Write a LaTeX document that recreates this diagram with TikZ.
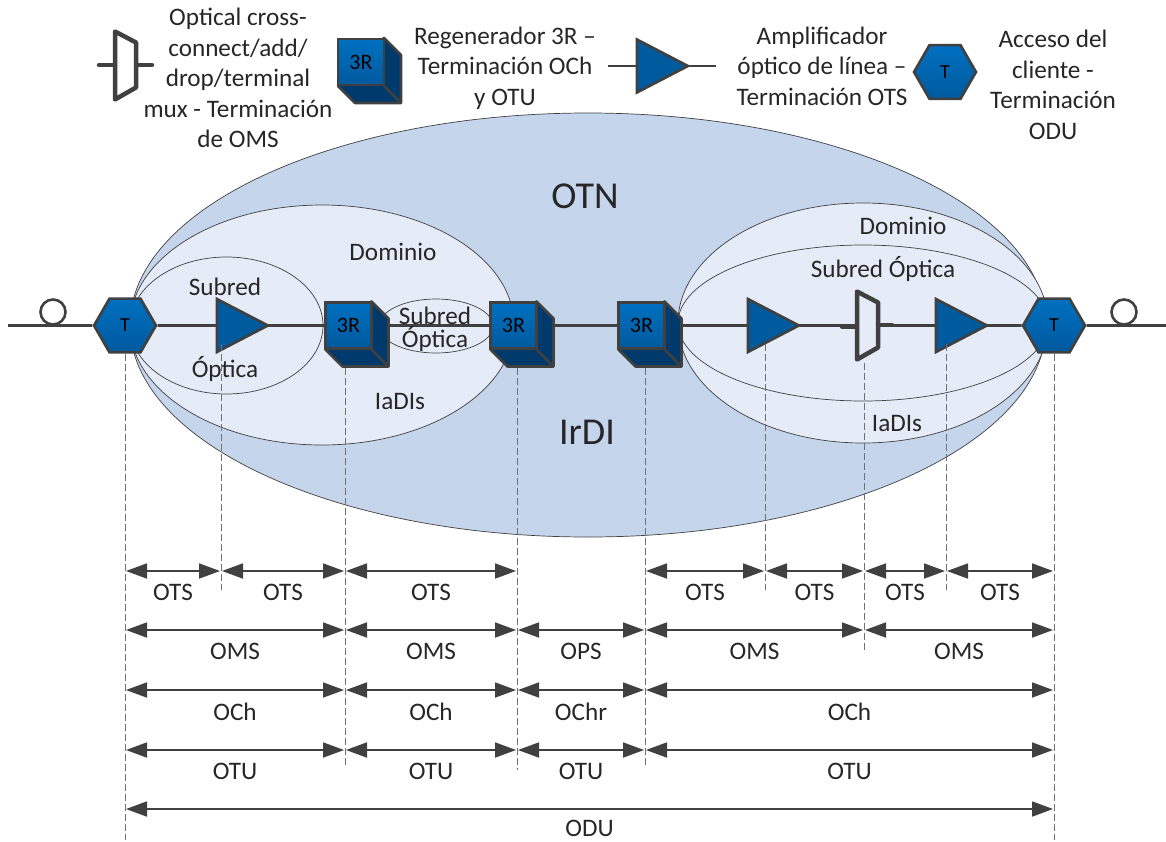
\documentclass[tikz,border=0pt]{standalone}
\usepackage{fontspec}
\setmainfont{Carlito}
\usetikzlibrary{arrows.meta,shapes.geometric}
\definecolor{darkline}{HTML}{404040}
\definecolor{otnblue}{HTML}{C5D5EC}
\definecolor{domblue}{HTML}{E6ECF7}
\definecolor{topblue}{HTML}{0070C0}
\definecolor{lowblue}{HTML}{005A9E}
\definecolor{sideblue}{HTML}{003A6C}
\tikzset{
  txt/.style={font=\fontsize{25.2}{30.5}\selectfont,text=black!85,align=center,inner sep=0pt},
  bigtxt/.style={font=\fontsize{38}{42}\selectfont,text=black!85,inner sep=0pt},
  zone/.style={draw=darkline,line width=0.7pt,fill=domblue},
  fibre/.style={draw=darkline,line width=2.6pt},
  stub/.style={draw=darkline,line width=4.5pt,line cap=round},
  guide/.style={draw=darkline!75,dash pattern=on 7pt off 3pt,line width=0.8pt},
  span/.style={draw=darkline,line width=1.8pt,{Triangle[length=21pt,width=15pt]}-{Triangle[length=21pt,width=15pt]},shorten <=1pt,shorten >=1pt},
  spanlbl/.style={font=\fontsize{25.2}{30.5}\selectfont,text=black!85,inner sep=0pt,midway,yshift=-21.5pt},
  hexa/.style={regular polygon,regular polygon sides=6,minimum size=62pt,inner sep=0pt,draw=darkline,line width=2.6pt,top color=topblue,bottom color=lowblue,font=\fontsize{20}{22}\selectfont},
  amp/.style={isosceles triangle,isosceles triangle stretches,minimum width=53pt,minimum height=51pt,inner sep=0pt,outer sep=0pt,draw=darkline,line width=2.6pt,fill=lowblue},
  loopc/.style={circle,minimum size=25pt,inner sep=0pt,draw=darkline,line width=2.6pt},
  regen/.pic={
    \draw[darkline,line width=2.6pt,line join=round,fill=sideblue] (23,-24) -- (40,-7) -- (40,41) -- (-6,41) -- (-23,24) -- cycle;
    \draw[darkline,line width=2.6pt] (23,24) -- (40,41);
    \node[draw=darkline,line width=2.6pt,top color=topblue,bottom color=lowblue,minimum size=46pt,inner sep=0pt,font=\fontsize{22}{24}\selectfont] (box) at (0,0) {3R};
    \coordinate (e) at (40,0);
  },
  oxc/.pic={
    \draw[darkline,line width=4.5pt,line join=round,fill=#1] (-10.5,-34) -- (10.5,-23) -- (10.5,22) -- (-10.5,34) -- cycle;
    \coordinate (w) at (-10.5,0);
    \coordinate (e) at (10.5,0);
  }
}
\begin{document}
\begin{tikzpicture}[x=1pt,y=-1pt]
\useasboundingbox (0,0) rectangle (1166,841);
% zones
\node[ellipse,zone,fill=otnblue,minimum width=916pt,minimum height=424pt] (otn) at (588,325) {};
\node[ellipse,zone,minimum width=384pt,minimum height=240pt] (doma) at (322,325) {};
\node[ellipse,zone,minimum width=193pt,minimum height=137pt] (suba) at (226.5,325.5) {};
\node[ellipse,zone,minimum width=114pt,minimum height=54pt] (subb) at (436,326) {};
\node[ellipse,zone,minimum width=370pt,minimum height=240pt] (domb) at (863,323) {};
\node[ellipse,zone,minimum width=370pt,minimum height=156pt] (subc) at (863,323) {};
% equipment on the line
\node[hexa] (ha) at (125,325.5) {T};
\node[hexa] (hb) at (1054,325.5) {T};
\node[amp] (aa) at (233,325.5) {};
\node[amp] (ab) at (764,325.5) {};
\node[amp] (ac) at (952,325.5) {};
\pic (ra) at (348.5,325.5) {regen};
\pic (rb) at (513.5,325.5) {regen};
\pic (rc) at (641.5,325.5) {regen};
\pic (ma) at (867.5,325.5) {oxc=domblue};
\node[loopc] (la) at (53,312) {};
\node[loopc] (lb) at (1124,312) {};
\coordinate (ls) at (8,325.5);
\coordinate (le) at (1166,325.5);
\draw[fibre] (ls) -- (ha);
\draw[fibre] (ha) -- (aa);
\draw[fibre] (aa) -- (rabox);
\draw[fibre] (rae) -- (rbbox);
\draw[fibre] (rbe) -- (rcbox);
\draw[fibre] (rce) -- (ab);
\draw[fibre] (ab) -- (maw);
\draw[fibre] (mae) -- (ac);
\draw[fibre] (ac) -- (hb);
\draw[fibre] (hb) -- (le);
\coordinate (sw) at (842,326.5);
\coordinate (se) at (892,325);
\draw[stub] (sw) -- (maw |- sw);
\draw[stub] (mae |- se) -- (se);
% rows of spans
\coordinate (rowa) at (0,571);
\coordinate (rowb) at (0,630);
\coordinate (rowc) at (0,690);
\coordinate (rowd) at (0,750);
\coordinate (rowe) at (0,809);
% guides
\coordinate (xa) at (125,840);
\coordinate (xb) at (221,590);
\coordinate (xc) at (345,765);
\coordinate (xd) at (517,770);
\coordinate (xe) at (645,765);
\coordinate (xf) at (765,590);
\coordinate (xg) at (864,650);
\coordinate (xh) at (946,590);
\coordinate (xi) at (1054,840);
\draw[guide] (ha.south -| xa) -- (xa);
\draw[guide] (aa.south -| xb) -- (xb);
\draw[guide] (rabox.south -| xc) ++(0,18) -- (xc);
\draw[guide] (rbbox.south -| xd) ++(0,18) -- (xd);
\draw[guide] (rcbox.south -| xe) ++(0,18) -- (xe);
\draw[guide] (ab.south -| xf) -- (xf);
\draw[guide] (ha.south -| xg) ++(0,9) -- (xg);
\draw[guide] (ac.south -| xh) -- (xh);
\draw[guide] (hb.south -| xi) -- (xi);
% spans
\draw[span] (xa |- rowa) -- (xb |- rowa) node[spanlbl] (tsa) {OTS};
\draw[span] (xb |- rowa) -- (xc |- rowa) node[spanlbl] (tsb) {OTS};
\draw[span] (xc |- rowa) -- (xd |- rowa) node[spanlbl] (tsc) {OTS};
\draw[span] (xe |- rowa) -- (xf |- rowa) node[spanlbl] (tsd) {OTS};
\draw[span] (xf |- rowa) -- (xg |- rowa) node[spanlbl] (tse) {OTS};
\draw[span] (xg |- rowa) -- (xh |- rowa) node[spanlbl] (tsf) {OTS};
\draw[span] (xh |- rowa) -- (xi |- rowa) node[spanlbl] (tsg) {OTS};
\draw[span] (xa |- rowb) -- (xc |- rowb) node[spanlbl] (msa) {OMS};
\draw[span] (xc |- rowb) -- (xd |- rowb) node[spanlbl] (msb) {OMS};
\draw[span] (xd |- rowb) -- (xe |- rowb) node[spanlbl] (psa) {OPS};
\draw[span] (xe |- rowb) -- (xg |- rowb) node[spanlbl] (msc) {OMS};
\draw[span] (xg |- rowb) -- (xi |- rowb) node[spanlbl] (msd) {OMS};
\draw[span] (xa |- rowc) -- (xc |- rowc) node[spanlbl] (cha) {OCh};
\draw[span] (xc |- rowc) -- (xd |- rowc) node[spanlbl] (chb) {OCh};
\draw[span] (xd |- rowc) -- (xe |- rowc) node[spanlbl] (chr) {OChr};
\draw[span] (xe |- rowc) -- (xi |- rowc) node[spanlbl] (chc) {OCh};
\draw[span] (xa |- rowd) -- (xc |- rowd) node[spanlbl] (tua) {OTU};
\draw[span] (xc |- rowd) -- (xd |- rowd) node[spanlbl] (tub) {OTU};
\draw[span] (xd |- rowd) -- (xe |- rowd) node[spanlbl] (tuc) {OTU};
\draw[span] (xe |- rowd) -- (xi |- rowd) node[spanlbl] (tud) {OTU};
\draw[span] (xa |- rowe) -- (xi |- rowe) node[spanlbl,yshift=2.5pt] (dua) {ODU};
% zone texts
\node[bigtxt] (totn) at (585,196) {OTN};
\node[bigtxt] (tirdi) at (587,432) {IrDI};
\node[txt] (tda) at (393,252) {Dominio};
\node[txt] (tdb) at (903,226) {Dominio};
\node[txt] (tsu) at (225,287) {Subred};
\node[txt] (top) at (225,369) {Óptica};
\node[txt,font=\fontsize{25.2}{23}\selectfont] (tsm) at (435,329) {Subred\\Óptica};
\node[txt] (tsr) at (883,269) {Subred Óptica};
\node[txt] (tia) at (400,401) {IaDIs};
\node[txt] (tib) at (897,423) {IaDIs};
% legend
\coordinate (mkw) at (99,65);
\coordinate (mke) at (152,65);
\draw[stub] (mkw) -- (mke);
\pic (mk) at (125.5,65.5) {oxc=white};
\node[txt] (tm) at (238,78) {Optical cross-\\connect/add/\\drop/terminal\\mux - Terminación\\de OMS};
\pic (rk) at (361,62) {regen};
\node[txt] (tr) at (505,68) {Regenerador 3R --\\Terminación OCh\\y OTU};
\node[amp] (ak) at (653,66) {};
\coordinate (akw) at (608,66);
\coordinate (ake) at (716,66);
\draw[fibre] (akw) -- (ak);
\draw[fibre] (ak) -- (ake);
\node[txt] (ta) at (822,66) {Amplificador\\óptico de línea --\\Terminación OTS};
\node[hexa] (hk) at (945,72) {T};
\node[txt] (th) at (1053,85) {Acceso del\\cliente -\\Terminación\\ODU};
\end{tikzpicture}
\end{document}
